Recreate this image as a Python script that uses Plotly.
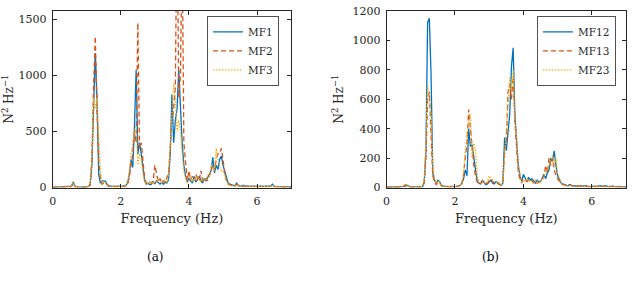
import numpy as np
import plotly.graph_objects as go

# Frequency grid (Hz), 0.05 Hz step
freq = np.round(np.arange(0, 7.0001, 0.05), 2)

# Panel (a)
mf1 = [2,3,2,4,3,5,3,4,6,5,
       8,12,50,15,6,4,3,3,4,3,
       5,8,30,200,700,1200,800,120,40,60,
       60,55,25,15,12,10,8,10,12,8,
       10,12,15,20,40,120,250,180,550,1050,
       300,400,300,150,60,30,40,25,30,50,
       35,60,40,30,45,30,50,40,70,300,
       830,400,600,700,1050,700,400,200,100,50,
       80,60,40,100,50,70,100,60,40,80,
       60,90,120,150,270,130,200,160,250,280,
       200,150,80,40,30,25,20,15,40,20,
       15,12,20,10,15,12,10,8,12,10,
       8,10,12,8,10,12,8,10,15,30,
       10,8,12,10,8,6,8,7,6,5,
       5]
mf2 = [3,2,4,3,2,4,5,3,4,5,
       6,10,35,12,5,3,4,2,3,4,
       4,6,20,250,900,1350,700,250,80,30,
       40,35,20,10,15,8,10,6,8,10,
       8,10,12,15,30,90,200,300,500,400,
       1470,350,400,200,80,40,30,50,40,60,
       200,120,50,80,40,60,40,90,120,350,
       600,700,900,2500,800,1000,2200,400,200,60,
       150,70,100,60,120,80,60,150,50,70,
       80,60,100,150,200,150,250,300,300,350,
       250,120,60,30,25,20,15,20,30,15,
       12,15,10,12,8,10,12,8,10,8,
       10,8,12,10,8,10,12,8,12,20,
       8,10,6,8,10,6,5,8,6,5,
       4]
mf3 = [2,3,3,2,4,3,4,5,4,6,
       8,15,40,10,5,4,3,4,3,4,
       5,10,40,250,800,700,800,400,150,40,
       50,40,20,12,10,12,8,10,8,10,
       10,12,18,25,50,150,300,400,500,550,
       200,300,250,120,50,40,30,40,50,30,
       60,40,80,50,40,70,60,50,100,400,
       600,930,800,500,600,500,300,150,80,40,
       60,100,50,80,60,100,70,50,90,60,
       70,120,100,200,180,150,350,250,200,150,
       150,100,60,30,20,25,15,12,20,15,
       12,10,15,8,12,10,8,10,12,8,
       10,8,10,12,8,10,8,12,10,15,
       8,10,8,6,8,7,6,5,6,5,
       4]

# Panel (b)
mf12 = [2,3,2,3,2,3,4,3,4,5,
        6,10,15,8,5,4,3,3,4,3,
        4,6,30,250,1120,1150,770,100,50,30,
        50,40,15,10,8,6,5,6,8,5,
        6,8,10,15,30,60,120,80,400,280,
        290,200,100,40,30,25,50,30,20,25,
        40,50,30,25,40,30,20,15,30,340,
        250,400,500,820,950,500,300,150,80,40,
        90,60,40,70,50,60,40,30,50,40,
        40,60,90,60,100,120,200,180,250,150,
        80,60,30,25,20,15,12,20,15,10,
        12,10,8,10,12,8,15,10,8,6,
        8,10,6,8,10,12,8,10,12,8,
        6,8,10,6,5,8,6,5,4,5,
        4]
mf13 = [2,2,3,2,3,4,3,4,5,6,
        8,20,12,6,4,3,3,2,3,4,
        5,8,40,200,600,650,400,80,40,20,
        40,30,12,8,6,5,6,5,6,5,
        5,8,10,12,25,80,200,300,530,400,
        250,150,80,40,20,30,40,35,25,30,
        50,60,40,30,35,25,20,20,40,250,
        300,650,700,600,750,450,250,100,60,30,
        60,50,40,50,40,50,30,40,30,35,
        40,50,80,150,100,200,150,200,120,80,
        60,40,25,20,15,12,10,15,12,8,
        10,8,10,12,8,10,8,6,8,6,
        8,6,10,8,6,8,10,6,8,6,
        6,5,8,6,5,6,5,4,5,4,
        4]
mf23 = [2,3,2,3,3,4,4,3,5,6,
        10,25,15,8,5,4,3,3,4,4,
        5,10,50,300,700,600,500,150,60,30,
        45,35,15,10,8,6,6,6,7,6,
        6,8,12,15,30,100,250,350,450,500,
        200,300,250,80,40,35,50,40,30,40,
        80,60,50,40,30,40,25,20,35,200,
        400,600,750,650,800,450,350,150,80,40,
        50,40,60,40,50,40,30,50,35,30,
        45,60,70,100,120,150,180,220,150,200,
        100,60,30,20,15,12,10,12,10,8,
        10,12,8,10,8,12,10,8,6,8,
        6,8,10,6,8,6,8,10,6,5,
        6,5,6,5,4,6,5,4,5,4,
        4]

x_ticks = [0, 2, 4, 6]
ya_ticks = [0, 500, 1000, 1500]
yb_ticks = [0, 200, 400, 600, 800, 1000, 1200]

C1, C2, C3 = "#0072BD", "#D95319", "#EDB120"
FONT = "DejaVu Serif, serif"
TXT = "#262626"

fig = go.Figure()
styles = [(C1, "solid"), (C2, "5px,3px"), (C3, "1.5px,1.5px")]
for (name, y), (c, d) in zip([("MF1", mf1), ("MF2", mf2), ("MF3", mf3)], styles):
    fig.add_trace(go.Scatter(x=freq, y=y, name=name, mode="lines",
                             line=dict(color=c, dash=d, width=1.3),
                             xaxis="x", yaxis="y", legend="legend"))
for (name, y), (c, d) in zip([("MF12", mf12), ("MF13", mf13), ("MF23", mf23)], styles):
    fig.add_trace(go.Scatter(x=freq, y=y, name=name, mode="lines",
                             line=dict(color=c, dash=d, width=1.3),
                             xaxis="x2", yaxis="y2", legend="legend2"))

W, H = 634, 292
xa = (49 / W, 289 / W)
xb = (385 / W, 626 / W)
yd = ((H - 190) / H, (H - 5) / H)

axcommon = dict(showline=True, linecolor=TXT, linewidth=0.8, mirror="ticks",
                ticks="inside", ticklen=4, tickwidth=0.8, tickcolor=TXT,
                showgrid=False, zeroline=False, ticklabelstandoff=3,
                ticklabeloverflow="allow",
                tickfont=dict(family=FONT, size=11, color=TXT))
xtitle = dict(text="Frequency (Hz)", font=dict(family=FONT, size=13, color=TXT), standoff=7)
ytitle = dict(text="N<sup>2</sup> Hz<sup>−1</sup>", font=dict(family=FONT, size=12, color=TXT), standoff=6)

legcommon = dict(bgcolor="white", bordercolor=TXT, borderwidth=0.8,
                 font=dict(family=FONT, size=10.5, color=TXT),
                 xanchor="right", yanchor="top", tracegroupgap=0, itemwidth=30)

fig.update_layout(
    width=W, height=H, margin=dict(l=0, r=0, t=0, b=0),
    paper_bgcolor="white", plot_bgcolor="white",
    xaxis=dict(domain=xa, range=[0, 7], tickvals=x_ticks, title=xtitle, anchor="y", **axcommon),
    yaxis=dict(domain=yd, range=[0, 1577], tickvals=ya_ticks, title=ytitle, anchor="x", **axcommon),
    xaxis2=dict(domain=xb, range=[0, 7], tickvals=x_ticks, title=xtitle, anchor="y2", **axcommon),
    yaxis2=dict(domain=yd, range=[0, 1201], tickvals=yb_ticks, title=ytitle, anchor="x2", **axcommon),
    legend=dict(x=277 / W, y=(H - 11) / H, **legcommon),
    legend2=dict(x=616 / W, y=(H - 11) / H, **legcommon),
    showlegend=True,
)

fig.add_annotation(text="(a)", x=152 / W, y=(H - 263) / H, xref="paper", yref="paper",
                   xanchor="center", yanchor="middle",
                   showarrow=False, font=dict(family=FONT, size=12, color="black"))
fig.add_annotation(text="(b)", x=490 / W, y=(H - 263) / H, xref="paper", yref="paper",
                   xanchor="center", yanchor="middle",
                   showarrow=False, font=dict(family=FONT, size=12, color="black"))

fig.write_html("out.html")
